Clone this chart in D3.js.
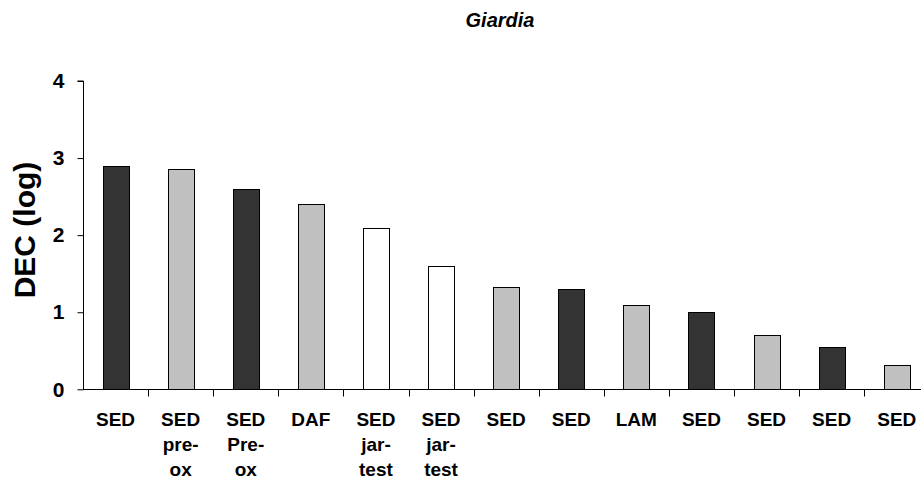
<!DOCTYPE html>
<html>
<head>
<meta charset="utf-8">
<script src="https://cdn.jsdelivr.net/npm/d3@7"></script>
<style>
  html, body { margin: 0; padding: 0; background: #fff; }
  svg { display: block; }
  text { font-family: Arial, "Liberation Sans", sans-serif; font-weight: bold; fill: #000; }
</style>
</head>
<body>
<svg id="chart" width="921" height="479"></svg>
<script>
const categories = [
  ["SED"], ["SED", "pre-", "ox"], ["SED", "Pre-", "ox"], ["DAF"],
  ["SED", "jar-", "test"], ["SED", "jar-", "test"], ["SED"], ["SED"],
  ["LAM"], ["SED"], ["SED"], ["SED"], ["SED"]
];
const values = [2.90, 2.86, 2.60, 2.40, 2.09, 1.60, 1.33, 1.30, 1.10, 1.00, 0.71, 0.55, 0.32];
const fillTypes = ["dark", "grey", "dark", "grey", "white", "white", "grey", "dark", "grey", "dark", "grey", "dark", "grey"];
const yTicks = [0, 1, 2, 3, 4];
const title = "Giardia";
const yLabel = "DEC (log)";

const fillColors = { dark: "#333333", grey: "#c0c0c0", white: "#ffffff" };

(function draw() {
const svg = d3.select("#chart");
const mLeft = 83, mTop = 81, mBottom = 389.3, step = 65.1;
const idx = categories.map((d, i) => i);

const x = d3.scaleBand().domain(idx).range([mLeft, mLeft + step * idx.length]).paddingInner(0.6).paddingOuter(0.3);
const y = d3.scaleLinear().domain([0, 4]).range([mBottom, mTop]);

// bars
svg.append("g").selectAll("rect").data(values).join("rect")
  .attr("x", (d, i) => Math.round(x(i)) + 0.5)
  .attr("y", d => Math.round(y(d)) + 0.5)
  .attr("width", Math.round(x.bandwidth()))
  .attr("height", d => Math.round(y(0)) - Math.round(y(d)))
  .attr("fill", (d, i) => fillColors[fillTypes[i]])
  .attr("stroke", "#000")
  .attr("stroke-width", 1);

// y axis
const yAxis = d3.axisLeft(y).tickValues(yTicks).tickFormat(d3.format("d")).tickSize(6).tickPadding(13);
const gy = svg.append("g").attr("transform", `translate(${mLeft + 0.5},0)`).call(yAxis);
gy.select(".domain").attr("stroke", "#000").attr("d", `M-6,${y(4)}H0V${y(0)}`);
gy.selectAll("text").attr("font-size", 21).attr("font-family", "Arial, 'Liberation Sans', sans-serif").attr("font-weight", "bold").attr("fill", "#000");

// x axis (ticks at band boundaries)
const gx = svg.append("g").attr("transform", `translate(0,${Math.round(mBottom) + 0.5})`);
gx.append("line").attr("x1", mLeft).attr("x2", 921).attr("y1", 0).attr("y2", 0).attr("stroke", "#000");
gx.selectAll("line.tk").data(idx.slice(1)).join("line").attr("class", "tk")
  .attr("x1", i => Math.round(mLeft + step * i) + 0.5)
  .attr("x2", i => Math.round(mLeft + step * i) + 0.5)
  .attr("y1", 0).attr("y2", 7).attr("stroke", "#000");

// x labels
const lab = svg.append("g").selectAll("text").data(categories).join("text")
  .attr("text-anchor", "middle")
  .attr("font-size", 19);
lab.each(function(lines, i) {
  const cx = x(i) + x.bandwidth() / 2;
  d3.select(this).selectAll("tspan").data(lines).join("tspan")
    .attr("x", cx)
    .attr("y", (d, j) => 425.5 + j * 25)
    .text(d => d);
});

// y label
svg.append("text")
  .attr("transform", `translate(35,230) rotate(-90)`)
  .attr("text-anchor", "middle")
  .attr("font-size", 30)
  .text(yLabel);

// title
svg.append("text")
  .attr("x", 500).attr("y", 27)
  .attr("text-anchor", "middle")
  .attr("font-size", 20)
  .attr("font-style", "italic")
  .text(title);
})();
</script>
</body>
</html>
